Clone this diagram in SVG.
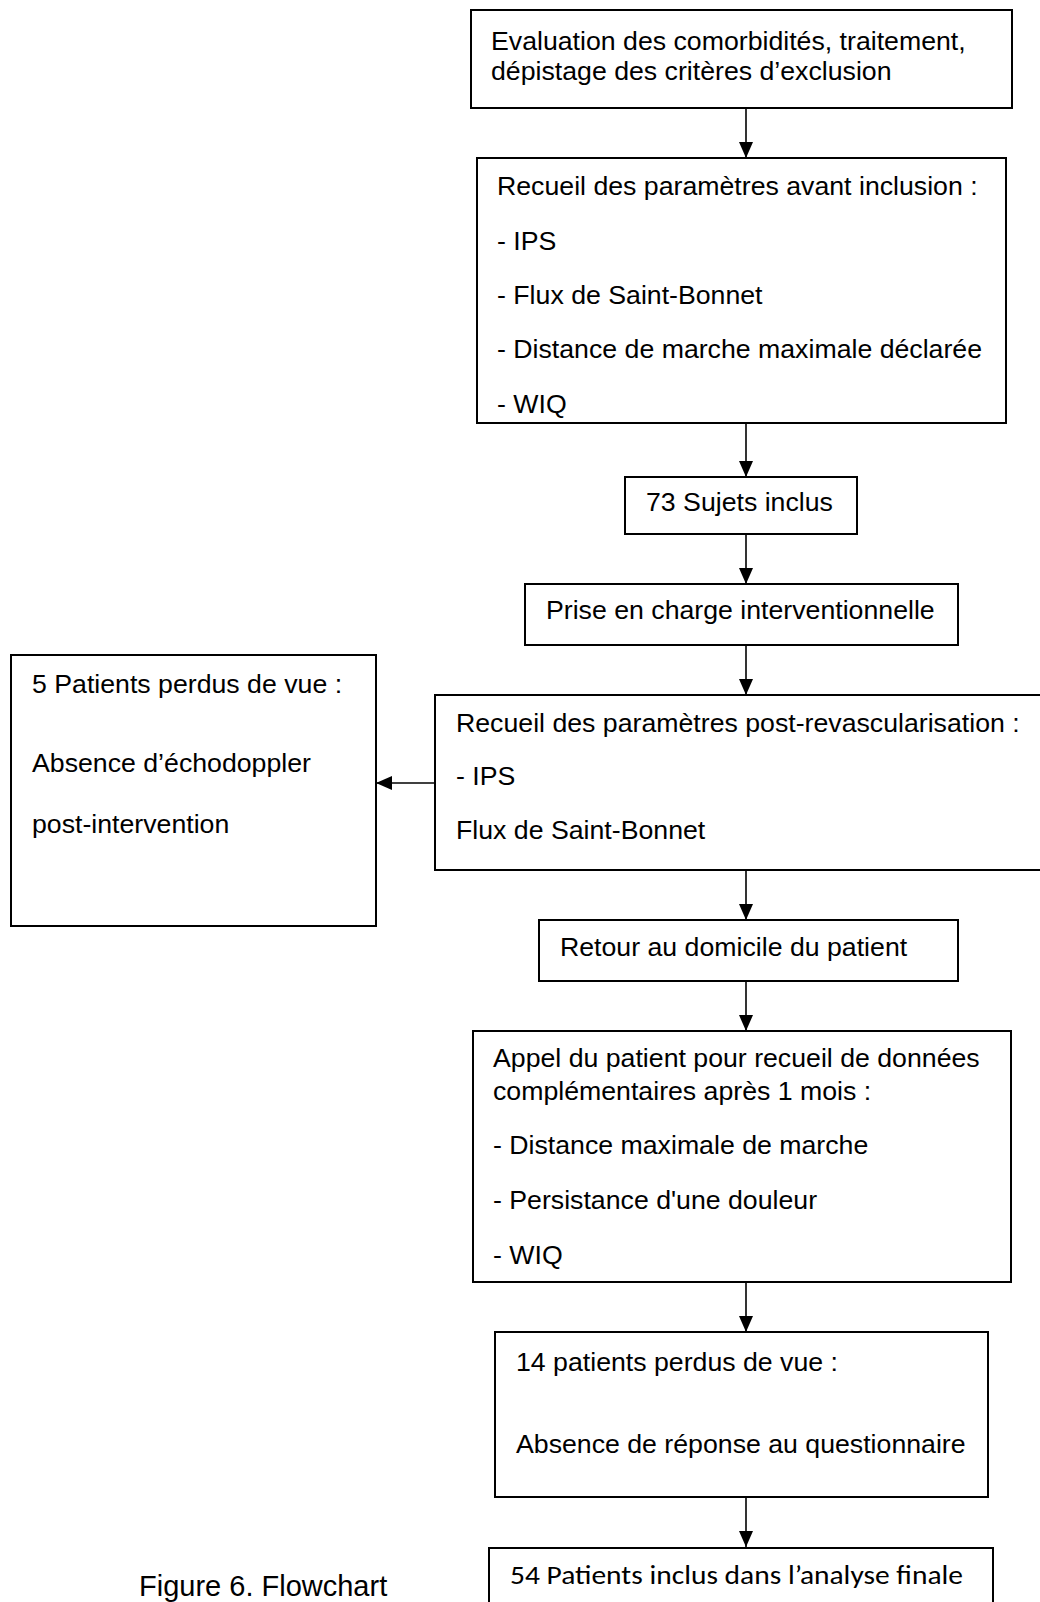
<svg xmlns="http://www.w3.org/2000/svg" width="1040" height="1602" viewBox="0 0 1040 1602">
<style>
  .box { fill: #ffffff; stroke: #000000; stroke-width: 2; }
  .t { font-family: "Liberation Sans", Arial, sans-serif; font-size: 26.7px; fill: #000000; }
  .cal { font-family: Carlito, "Liberation Sans Narrow", "Liberation Sans", sans-serif; font-size: 27.5px; fill: #000000; }
  .cap { font-family: "Liberation Sans", Arial, sans-serif; font-size: 29px; fill: #000000; }
  .edge { stroke: #000000; stroke-width: 1.6; fill: none; marker-end: url(#arrow); }
</style>
<defs>
  <marker id="arrow" markerUnits="userSpaceOnUse" markerWidth="16" markerHeight="14" refX="16" refY="7" orient="auto">
    <path d="M0,0 L16,7 L0,14 Z" fill="#000000"/>
  </marker>
</defs>
<rect width="1040" height="1602" fill="#ffffff"/>

<g id="connectors">
  <line class="edge" x1="746" y1="108" x2="746" y2="158"/>
  <line class="edge" x1="746" y1="423" x2="746" y2="477"/>
  <line class="edge" x1="746" y1="534" x2="746" y2="584"/>
  <line class="edge" x1="746" y1="645" x2="746" y2="695"/>
  <line class="edge" x1="435" y1="783" x2="376" y2="783"/>
  <line class="edge" x1="746" y1="870" x2="746" y2="920"/>
  <line class="edge" x1="746" y1="981" x2="746" y2="1031"/>
  <line class="edge" x1="746" y1="1282" x2="746" y2="1332"/>
  <line class="edge" x1="746" y1="1497" x2="746" y2="1547"/>
</g>

<g id="n1">
  <rect class="box" x="471" y="10" width="541" height="98"/>
  <text class="t" x="491" y="50">Evaluation des comorbidités, traitement,</text>
  <text class="t" x="491" y="80">dépistage des critères d’exclusion</text>
</g>

<g id="n2">
  <rect class="box" x="477" y="158" width="529" height="265"/>
  <text class="t" x="497" y="195">Recueil des paramètres avant inclusion :</text>
  <text class="t" x="497" y="250">- IPS</text>
  <text class="t" x="497" y="304">- Flux de Saint-Bonnet</text>
  <text class="t" x="497" y="358">- Distance de marche maximale déclarée</text>
  <text class="t" x="497" y="413">- WIQ</text>
</g>

<g id="n3">
  <rect class="box" x="625" y="477" width="232" height="57"/>
  <text class="t" x="646" y="511">73 Sujets inclus</text>
</g>

<g id="n4">
  <rect class="box" x="525" y="584" width="433" height="61"/>
  <text class="t" x="546" y="619">Prise en charge interventionnelle</text>
</g>

<g id="n5">
  <rect class="box" x="435" y="695" width="612" height="175"/>
  <text class="t" x="456" y="732">Recueil des paramètres post-revascularisation :</text>
  <text class="t" x="456" y="785">- IPS</text>
  <text class="t" x="456" y="839">Flux de Saint-Bonnet</text>
</g>

<g id="n6">
  <rect class="box" x="11" y="655" width="365" height="271"/>
  <text class="t" x="32" y="693">5 Patients perdus de vue :</text>
  <text class="t" x="32" y="772">Absence d’échodoppler</text>
  <text class="t" x="32" y="833">post-intervention</text>
</g>

<g id="n7">
  <rect class="box" x="539" y="920" width="419" height="61"/>
  <text class="t" x="560" y="956">Retour au domicile du patient</text>
</g>

<g id="n8">
  <rect class="box" x="473" y="1031" width="538" height="251"/>
  <text class="t" x="493" y="1067">Appel du patient pour recueil de données</text>
  <text class="t" x="493" y="1100">complémentaires après 1 mois :</text>
  <text class="t" x="493" y="1154">- Distance maximale de marche</text>
  <text class="t" x="493" y="1209">- Persistance d'une douleur</text>
  <text class="t" x="493" y="1264">- WIQ</text>
</g>

<g id="n9">
  <rect class="box" x="495" y="1332" width="493" height="165"/>
  <text class="t" x="516" y="1371">14 patients perdus de vue :</text>
  <text class="t" x="516" y="1453">Absence de réponse au questionnaire</text>
</g>

<g id="n10">
  <rect class="box" x="489" y="1548" width="504" height="70"/>
  <text class="cal" x="510" y="1584" textLength="453" lengthAdjust="spacingAndGlyphs">54 Patients inclus dans l’analyse finale</text>
</g>

<text class="cap" x="139" y="1596">Figure 6. Flowchart</text>
</svg>
